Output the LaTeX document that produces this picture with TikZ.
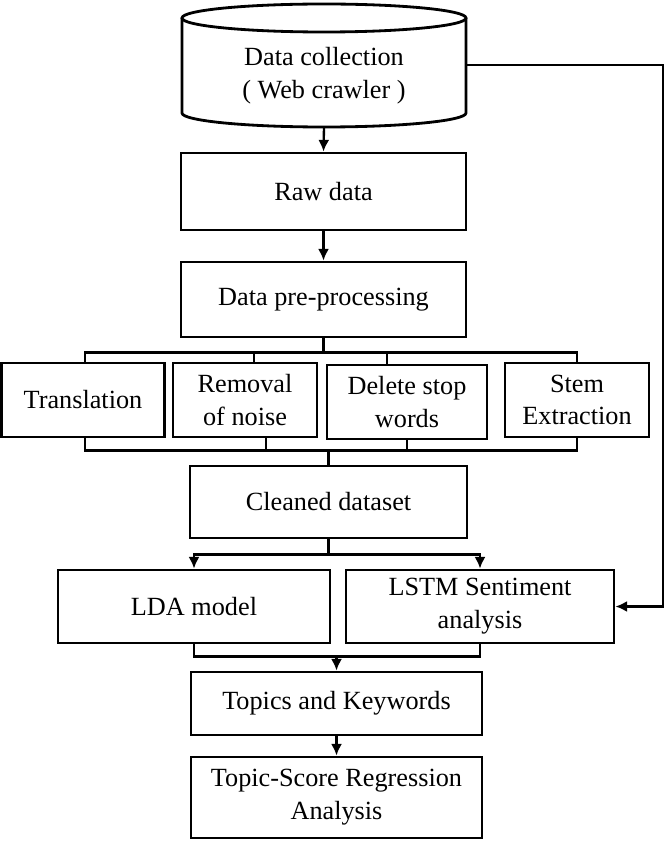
\documentclass[tikz,border=0pt]{standalone}
\usepackage{fontspec}
\setmainfont{Liberation Serif}
\usepackage{tikz}
\usetikzlibrary{calc, arrows.meta}

\tikzset{
    stagebox/.style={draw, line width=2.4pt, align=center, inner sep=0pt,
        font=\fontsize{22.4}{28}\selectfont},
    link/.style={line width=2pt}
}

\begin{document}
\begin{tikzpicture}[>={Latex[length=10pt,width=9.5pt]}, x=0.03cm, y=-0.03cm]
            \useasboundingbox (0,0) rectangle (665,848);
            % data source
            \draw[line width=2.4pt] (182,18) -- (182,113) arc (180:0:142 and 14) -- (466,18);
            \draw[line width=2.4pt] (324,18) ellipse (142 and 14);
            \node[align=center, font=\fontsize{22.4}{28}\selectfont] (dc) at (324,75.5) {Data collection\\( Web crawler )};
            \coordinate (dcb) at (324,127);
            \coordinate (fb) at (466,65);
            \coordinate (fbc) at (663,65);
            % main chain
            \node[stagebox, minimum width=285*0.03cm, minimum height=77*0.03cm] (raw) at (323.5,191.5) {Raw data};
            \node[stagebox, minimum width=285*0.03cm, minimum height=75*0.03cm] (pre) at (323.5,299.5) {Data pre-processing};
            % pre-processing steps
            \node[stagebox, minimum width=163*0.03cm, minimum height=74*0.03cm] (tr) at (83,400) {Translation};
            \node[stagebox, minimum width=144*0.03cm, minimum height=74*0.03cm] (rn) at (245,400) {Removal\\of noise};
            \node[stagebox, minimum width=160*0.03cm, minimum height=74*0.03cm] (ds) at (407,402) {Delete stop\\words};
            \node[stagebox, minimum width=144*0.03cm, minimum height=74*0.03cm] (se) at (577,400) {Stem\\Extraction};
            \node[stagebox, minimum width=277*0.03cm, minimum height=72*0.03cm] (cd) at (328.5,502) {Cleaned dataset};
            % models
            \node[stagebox, minimum width=272*0.03cm, minimum height=73*0.03cm] (lda) at (194,606.5) {LDA model};
            \node[stagebox, minimum width=268*0.03cm, minimum height=73*0.03cm] (ls) at (480,606.5) {LSTM Sentiment\\analysis};
            \node[stagebox, minimum width=291*0.03cm, minimum height=63*0.03cm] (tk) at (336.5,703.5) {Topics and Keywords};
            \node[stagebox, minimum width=291*0.03cm, minimum height=81*0.03cm] (rg) at (336.5,797.5) {Topic-Score Regression\\Analysis};

            \draw[link,->] (dcb) -- (raw.north);
            \draw[link,->] (raw) -- (pre);
            \draw[link] (pre.south) -- ++(0,14) coordinate (b1);
            \draw[link] (b1) -| ($(tr.north)+(2,0)$);
            \draw[link] (b1) -| ($(rn.north)+(9,0)$);
            \draw[link] (b1) -| ($(ds.north)+(-20,0)$);
            \draw[link] (b1) -| (se.north);
            \draw[link] ($(tr.south)+(2,0)$) |- ($(cd.north)+(0,-14)$) coordinate (b2);
            \draw[link] ($(rn.south)+(21,0)$) |- (b2);
            \draw[link] (ds.south) |- (b2);
            \draw[link] (se.south) |- (b2);
            \draw[link] (b2) -- (cd.north);
            \draw[link] (cd.south) -- ++(0,15) coordinate (b3);
            \draw[link,->] (b3) -| (lda.north);
            \draw[link,->] (b3) -| (ls.north);
            \draw[link] (lda.south) |- ($(tk.north)+(0,-14)$) coordinate (b4);
            \draw[link] (ls.south) |- (b4);
            \draw[link,->] (b4) -- (tk.north);
            \draw[link,->] (tk) -- (rg);
            \draw[link,->] (fb) -- (fbc) |- (ls.east);
        \end{tikzpicture}
\end{document}
